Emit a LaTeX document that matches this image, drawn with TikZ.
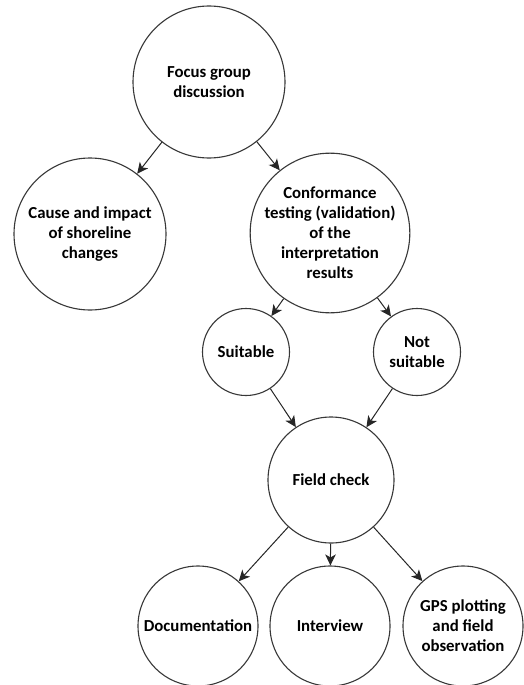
\documentclass[tikz,border=0pt]{standalone}
\usepackage{fontspec}
\setmainfont{Carlito}
\usetikzlibrary{arrows.meta}
\tikzset{
  bubble/.style={circle,draw=black!78,line width=1.1pt,inner sep=0pt,align=center,
    font=\bfseries\fontsize{16.8}{20}\selectfont},
  link/.style={-{Stealth[length=11pt,width=10.5pt,inset=3pt]},line width=1pt,draw=black!85}
}
\begin{document}
\begin{tikzpicture}[x=1pt,y=-1pt]
\useasboundingbox[fill=white] (0,0) rectangle (524,685);
\node[bubble,minimum size=152pt] (focus) at (209,82) {Focus group\\discussion};
\node[bubble,minimum size=152pt] (cause) at (90,234) {Cause and impact\\of shoreline\\changes};
\node[bubble,minimum size=152pt] (conform) at (330,233) {Conformance\\testing (validation)\\of the\\interpretation\\results};
\node[bubble,minimum size=87pt] (suit) at (246,352) {Suitable};
\node[bubble,minimum size=87pt] (notsuit) at (417,352) {Not\\suitable};
\node[bubble,minimum size=126pt] (field) at (331,480) {Field check};
\node[bubble,minimum size=120pt] (doc) at (198,626) {Documentation};
\node[bubble,minimum size=120pt] (interview) at (330,626) {Interview};
\node[bubble,minimum size=120pt] (gps) at (463,626) {GPS plotting\\and field\\observation};
\draw[link] (focus) -- (cause);
\draw[link] (focus) -- (conform);
\draw[link] (conform) -- (suit);
\draw[link] (conform) -- (notsuit);
\draw[link] (suit) -- (field);
\draw[link] (notsuit) -- (field);
\draw[link] (field) -- (doc);
\draw[link] (field) -- (interview);
\draw[link] (field) -- (gps);
\end{tikzpicture}
\end{document}
